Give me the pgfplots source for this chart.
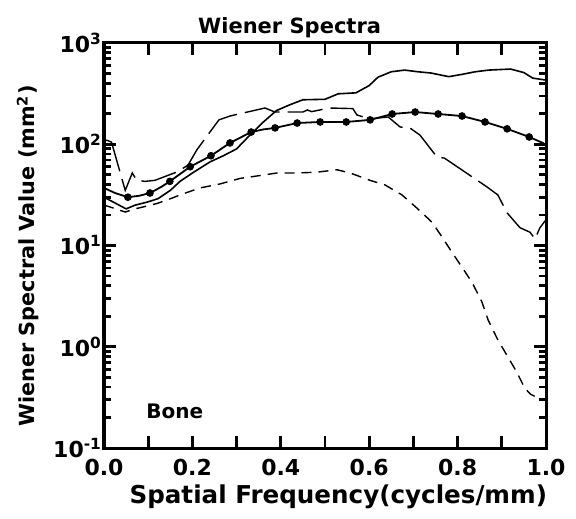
\documentclass[border=0pt]{standalone}
\usepackage{fontspec}
\setmainfont{DejaVu Sans}
\usepackage{pgfplots}
\pgfplotsset{compat=1.18}

% curve data (x in cycles/mm, y in mm^2)
\pgfplotstableread{
x y
0.000 30
0.020 27
0.050 23
0.070 25
0.100 27
0.122 29
0.150 35
0.172 43
0.200 52
0.240 67
0.270 77
0.300 90
0.330 123
0.360 165
0.390 215
0.420 245
0.450 275
0.500 278
0.530 315
0.570 322
0.600 380
0.620 460
0.650 520
0.680 540
0.710 520
0.740 505
0.780 465
0.810 490
0.840 520
0.870 540
0.920 553
0.950 510
0.970 450
1.000 430
}\topcurve

\pgfplotstableread{
x y
0.000 37
0.025 33
0.054 30
0.080 31
0.104 33
0.130 38
0.149 43
0.195 60
0.242 77
0.285 103
0.333 132
0.360 140
0.387 145
0.437 162
0.489 166
0.548 166
0.602 174
0.652 199
0.704 208
0.756 199
0.810 190
0.862 166
0.912 142
0.962 118
0.995 102
}\dotcurve

\pgfplotstableread{
x y
0.054 30
0.104 33
0.149 43
0.195 60
0.242 77
0.285 103
0.333 132
0.387 145
0.437 162
0.489 166
0.548 166
0.602 174
0.652 199
0.704 208
0.756 199
0.810 190
0.862 166
0.912 142
0.962 118
}\dotmarks

\pgfplotstableread{
x y
0.005 110
0.017 105
0.048 35
0.064 52
0.074 44
0.093 43
0.115 44
0.164 53
0.190 62
0.210 88
0.260 174
0.285 190
0.364 228
0.387 208
0.450 208
0.460 218
0.470 210
0.510 228
0.563 225
0.572 195
0.600 178
0.643 186
0.670 148
0.692 145
0.715 123
0.753 75
0.770 73
0.799 60
0.866 38
0.891 31.6
0.912 21
0.941 15
0.964 13.5
0.975 11.6
0.986 14.9
1.000 18
}\longdash

\pgfplotstableread{
x y
0.000 25
0.014 24
0.048 21.4
0.070 23
0.088 24
0.120 26
0.154 29.4
0.172 31.6
0.217 37
0.262 40.5
0.308 46
0.346 48.6
0.391 52
0.437 52
0.482 53
0.527 56
0.557 52
0.602 44
0.636 39.6
0.674 31.6
0.708 23.4
0.742 17
0.765 12.1
0.787 8.6
0.810 6.1
0.833 4.3
0.855 2.77
0.869 1.84
0.891 1.17
0.914 0.79
0.934 0.56
0.952 0.39
0.965 0.34
0.990 0.30
}\shortdash

\begin{document}
\begin{tikzpicture}
\useasboundingbox (-52pt,-35pt) rectangle (236pt,224pt);
\begin{axis}[
  at={(0,0)}, anchor=south west,
  scale only axis, width=221pt, height=202.5pt,
  ymode=log, xmin=0, xmax=1, ymin=0.1, ymax=1000,
  axis line style={line width=1.5pt},
  tick align=inside,
  tick style={black, line width=1.4pt},
  major tick length=6pt, minor tick length=3.5pt,
  xtick={0,0.1,0.2,0.3,0.4,0.5,0.6,0.7,0.8,0.9,1.0},
  xticklabels={0.0,,0.2,,0.4,,0.6,,0.8,,1.0},
  ytick={0.1,1,10,100,1000},
  yticklabels={10\textsuperscript{-1},10\textsuperscript{0},10\textsuperscript{1},10\textsuperscript{2},10\textsuperscript{3}},
  tick label style={font=\bfseries\fontsize{11}{13}\selectfont},
  xticklabel style={yshift=-4.5pt, inner sep=1pt},
  yticklabel style={xshift=2.5pt},
  xlabel={Spatial Frequency(cycles/mm)},
  xlabel style={at={(axis description cs:0.53,-0.137)}, anchor=base, inner sep=0pt,
    font=\bfseries\fontsize{12.3}{14}\selectfont},
  ylabel={Wiener Spectral Value (mm\textsuperscript{2})},
  ylabel style={at={(axis description cs:-0.172,0.474)}, anchor=center,
    font=\bfseries\fontsize{10.4}{12}\selectfont},
]
\addplot[black, line width=0.8pt] table {\topcurve};
\addplot[black, line width=0.9pt] table {\dotcurve};
\addplot[black, only marks, mark=*, mark size=1.7pt] table {\dotmarks};
\addplot[black, line width=0.7pt, dash pattern=on 18pt off 4pt] table {\longdash};
\addplot[black, line width=0.7pt, dash pattern=on 5pt off 3.5pt] table {\shortdash};
\node[anchor=west, font=\bfseries\fontsize{10}{12}\selectfont] at (axis cs:0.08,0.23) {Bone};
\end{axis}
\node[anchor=base, font=\bfseries\fontsize{10.5}{12}\selectfont] at (92.8pt,207pt) {Wiener Spectra};
\end{tikzpicture}
\end{document}
